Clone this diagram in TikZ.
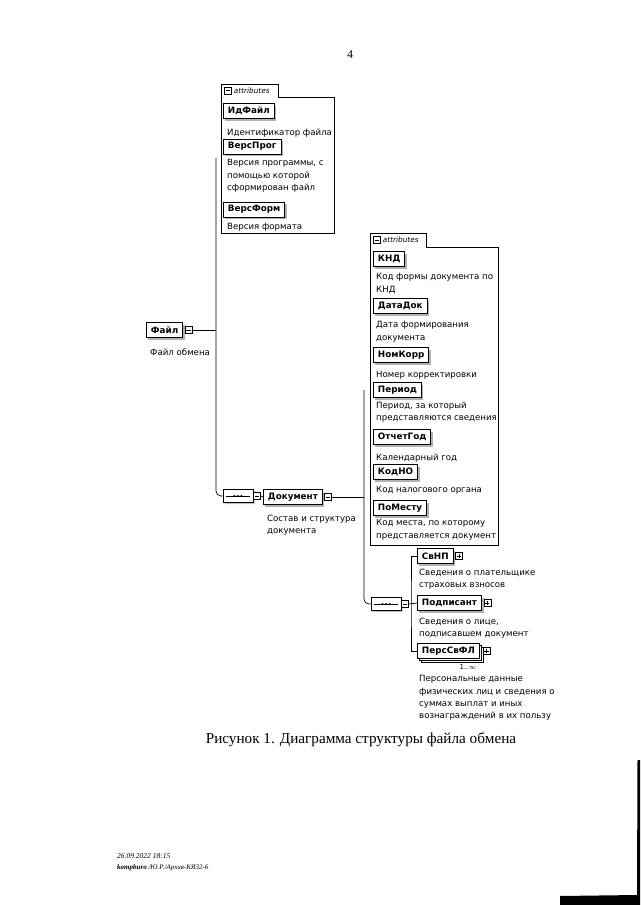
\documentclass[tikz,border=0pt]{standalone}
\usepackage{fontspec}
\setmainfont{Liberation Serif}
\newfontfamily\xsdfont{DejaVu Sans}
\usepackage{tikz}
\usetikzlibrary{positioning,shapes.misc,shadows}

\tikzset{
  elem/.style={draw, line width=0.9pt, fill=white, inner xsep=4.5pt, inner ysep=0pt,
    minimum height=15pt, font=\xsdfont\bfseries\fontsize{8.8}{9}\selectfont,
    drop shadow={shadow xshift=2pt, shadow yshift=-2pt, fill=gray!60, opacity=1}},
  multielem/.style={elem, double copy shadow={shadow xshift=2pt, shadow yshift=-2pt, draw, fill=white}},
  desc/.style={anchor=north west, inner sep=0pt, align=left, execute at begin node=\strut,
    font=\xsdfont\fontsize{8.6}{12.2}\selectfont},
  tgl/.style={draw, line width=0.5pt, fill=white, minimum size=7pt, inner sep=0pt},
  tglminus/.style={tgl, path picture={
    \draw ([xshift=1.3pt]path picture bounding box.west) -- ([xshift=-1.3pt]path picture bounding box.east);}},
  tglplus/.style={tgl, path picture={
    \draw ([xshift=1.3pt]path picture bounding box.west) -- ([xshift=-1.3pt]path picture bounding box.east);
    \draw ([yshift=-1.3pt]path picture bounding box.north) -- ([yshift=1.3pt]path picture bounding box.south);}},
  seq/.style={chamfered rectangle, chamfered rectangle xsep=3.5pt, chamfered rectangle ysep=3.5pt,
    draw, line width=0.6pt, fill=white,
    minimum width=30pt, minimum height=13pt, inner sep=0pt,
    drop shadow={shadow xshift=1.5pt, shadow yshift=-1.5pt, fill=gray!50, opacity=1}},
  frame/.style={line width=0.6pt},
  tabtext/.style={inner sep=0pt, font=\xsdfont\itshape\fontsize{7.3}{8}\selectfont},
  wire/.style={line width=0.7pt},
}

\newcommand{\seqdots}[1]{%
  \draw[line width=0.6pt] ([xshift=3pt]#1.west) -- ([xshift=-3pt]#1.east);
  \foreach \d in {-3.5,0,3.5} { \fill ([xshift=\d pt]#1.center) circle (1.1pt); }
}

\begin{document}
\begin{tikzpicture}[x=1pt, y=-1pt]
  \useasboundingbox (0,0) rectangle (640,905);

  \node[font=\fontsize{12}{14}\selectfont] (pagenum) at (350,55) {4};

  % attributes of the root element
  \draw[frame] (221,233) -- (221,84) -- (278,84) -- (278,97) -- (334,97) -- (334,233) -- cycle;
  \node[tglminus] (tabm1) at (228,90.5) {};
  \node[tabtext, right=2pt of tabm1] (tabt1) {attributes};
  \node[elem, anchor=west] (idfile) at (223,111) {ИдФайл};
  \node[desc] (idfiled) at (227,126.5) {Идентификатор файла};
  \node[elem, anchor=west] (versprog) at (223,146.5) {ВерсПрог};
  \node[desc] (versprogd) at (227,159.5) {Версия программы, с\\помощью которой\\сформирован файл};
  \node[elem, anchor=west] (versform) at (223,209.5) {ВерсФорм};
  \node[desc] (versformd) at (227,220.5) {Версия формата};

  % root element
  \node[elem, anchor=west] (file) at (146,330) {Файл};
  \node[tglminus, right=1.5pt of file] (filem) {};
  \node[desc] (filed) at (150,346.5) {Файл обмена};
  \coordinate (trunkA) at (216,158);

  \node[seq] (seq1) at (238,496) {};
  \seqdots{seq1}
  \node[tglminus, right=0pt of seq1] (seq1m) {};
  \node[elem, anchor=west] (doc) at (263,497) {Документ};
  \node[tglminus, right=1.5pt of doc] (docm) {};
  \node[desc] (docd) at (267,514.5) {Состав и структура\\документа};
  \coordinate (trunkB) at (364,390);

  \draw[wire] (filem.east) -- (filem.east -| trunkA);
  \draw[wire, rounded corners=5pt] (trunkA) |- (seq1.west);
  \draw[wire] (seq1m.east) -- (doc.west);

  % attributes of Документ
  \draw[frame] (370,545) -- (370,233) -- (426,233) -- (426,247) -- (498,247) -- (498,545) -- cycle;
  \node[tglminus] (tabm2) at (377,240) {};
  \node[tabtext, right=2pt of tabm2] (tabt2) {attributes};
  \node[elem, anchor=west] (knd) at (373,259) {КНД};
  \node[desc] (kndd) at (376,273.5) {Код формы документа по\\КНД};
  \node[elem, anchor=west] (datadok) at (373,306) {ДатаДок};
  \node[desc] (datadokd) at (376,321.5) {Дата формирования\\документа};
  \node[elem, anchor=west] (nomkorr) at (373,355) {НомКорр};
  \node[desc] (nomkorrd) at (376,368.5) {Номер корректировки};
  \node[elem, anchor=west] (period) at (373,390) {Период};
  \node[desc] (periodd) at (376,401.5) {Период, за который\\представляются сведения};
  \node[elem, anchor=west] (otchgod) at (373,437) {ОтчетГод};
  \node[desc] (otchgodd) at (376,451.5) {Календарный год};
  \node[elem, anchor=west] (kodno) at (373,472) {КодНО};
  \node[desc] (kodnod) at (376,483.5) {Код налогового органа};
  \node[elem, anchor=west] (pomestu) at (373,508) {ПоМесту};
  \node[desc] (pomestud) at (376,519.5) {Код места, по которому\\представляется документ};

  % children of Документ
  \node[seq] (seq2) at (386,604) {};
  \seqdots{seq2}
  \node[tglminus, right=0pt of seq2] (seq2m) {};
  \coordinate (fork) at (411,604);
  \node[elem, anchor=west] (svnp) at (417,556) {СвНП};
  \node[tglplus, right=1.5pt of svnp] (svnpp) {};
  \node[desc] (svnpd) at (419,568.5) {Сведения о плательщике\\страховых взносов};
  \node[elem, anchor=west] (podp) at (417,603) {Подписант};
  \node[tglplus, right=1.5pt of podp] (podpp) {};
  \node[desc] (podpd) at (419,617.5) {Сведения о лице,\\подписавшем документ};
  \node[multielem, anchor=west] (pers) at (417,651) {ПерсСвФЛ};
  \node[tglplus, right=3pt of pers] (persp) {};
  \node[inner sep=0pt, font=\xsdfont\fontsize{7}{8}\selectfont] (perscard) at (468,667) {1..$\infty$};
  \node[desc] (persd) at (419,675.5) {Персональные данные\\физических лиц и сведения о\\суммах выплат и иных\\вознаграждений в их пользу};

  \draw[wire] (docm.east) -- (docm.east -| trunkB);
  \draw[wire, rounded corners=5pt] (trunkB) |- (seq2.west);
  \draw[wire] (seq2m.east) -- (podp.west);
  \draw[wire] (svnp.west) -| (fork) |- (pers.west);

  \node[font=\fontsize{15.2}{18}\selectfont] (caption) at (361,740) {Рисунок 1. Диаграмма структуры файла обмена};

  \node[anchor=base west, inner sep=0pt, font=\itshape\fontsize{7.5}{9}\selectfont] (stamp) at (117,858) {26.09.2022 18:15};
  \node[anchor=base west, inner sep=0pt, font=\itshape\fontsize{7}{9}\selectfont] (source) at (117,869) {{\bfseries kompburo} /Ю.Р./Архив-КЯ32-6};

  % scan edge
  \fill (637.5,760) -- (640,760) -- (640,905) -- (560,905) -- (560,896) -- (637,895) -- cycle;
\end{tikzpicture}
\end{document}
